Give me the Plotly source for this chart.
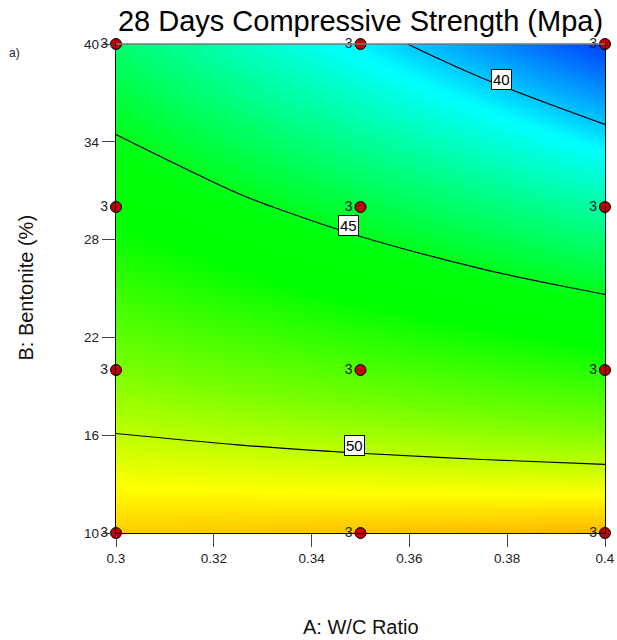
import numpy as np
import plotly.graph_objects as go

# ---- data ----
wc_ratio = [0.3, 0.325, 0.35, 0.375, 0.4]          # A: W/C Ratio
bentonite = [10, 15, 20, 25, 30, 35, 40]            # B: Bentonite (%)
# predicted 28-day compressive strength, rows = bentonite, cols = wc_ratio
strength = [
    [51.67, 51.75, 51.84, 51.93, 52.02],
    [50.30, 50.13, 49.96, 49.79, 49.62],
    [48.94, 48.51, 48.08, 47.65, 47.22],
    [47.58, 46.89, 46.20, 45.51, 44.83],
    [46.21, 45.27, 44.32, 43.37, 42.43],
    [44.85, 43.64, 42.44, 41.24, 40.03],
    [43.49, 42.02, 40.56, 39.10, 37.64],
]
contour_levels = [40, 45, 50]
label_wc = [0.3789, 0.3475, 0.3487]

design_wc = [0.3, 0.35, 0.4] * 4
design_bent = [10] * 3 + [20] * 3 + [30] * 3 + [40] * 3
design_reps = ["3"] * 12

x_ticks = [0.3, 0.32, 0.34, 0.36, 0.38, 0.4]
x_ticktext = ["0.3", "0.32", "0.34", "0.36", "0.38", "0.4"]
y_ticks = [10, 16, 22, 28, 34, 40]
y_ticktext = ["10", "16", "22", "28", "34", "40"]

# colour map stops (response value -> colour)
cmap_z = [37.6, 40.0, 40.8, 45.3, 46.5, 48.9, 50.0, 50.9, 52.1]
cmap_c = ["rgb(0,60,255)", "rgb(0,200,255)", "rgb(0,255,255)", "rgb(0,255,10)",
          "rgb(0,255,0)", "rgb(120,255,0)", "rgb(190,255,0)", "rgb(255,255,0)",
          "rgb(255,175,0)"]

FONT = "Arial, Liberation Sans, sans-serif"

zmin, zmax = cmap_z[0], cmap_z[-1]
colorscale = [[(v - zmin) / (zmax - zmin), c] for v, c in zip(cmap_z, cmap_c)]

Z = np.array(strength)
A = np.array(wc_ratio)
B = np.array(bentonite, dtype=float)

fig = go.Figure()
fig.add_trace(go.Heatmap(x=wc_ratio, y=bentonite, z=strength, zsmooth="best",
                         colorscale=colorscale, zmin=zmin, zmax=zmax,
                         showscale=False, hoverinfo="skip"))
fig.add_trace(go.Contour(x=wc_ratio, y=bentonite, z=strength,
                         contours=dict(coloring="none", start=contour_levels[0],
                                       end=contour_levels[-1], size=5),
                         line=dict(color="black", width=1.2, smoothing=1),
                         showscale=False, hoverinfo="skip"))
fig.add_trace(go.Scatter(x=design_wc, y=design_bent, mode="markers+text",
                         text=design_reps, textposition="middle left",
                         textfont=dict(family=FONT, size=14, color="#222"),
                         marker=dict(size=11, color="rgb(190,0,0)",
                                     line=dict(color="black", width=1)),
                         cliponaxis=False, hoverinfo="skip"))


def level_position(a, level):
    col = np.array([np.interp(a, A, row) for row in Z])
    return float(np.interp(level, col[::-1], B[::-1]))


annotations = []
for lvl, a in zip(contour_levels, label_wc):
    annotations.append(dict(x=a, y=level_position(a, lvl), xref="x", yref="y",
                            text=str(lvl), showarrow=False, yshift=7,
                            bgcolor="white", bordercolor="black", borderwidth=1,
                            borderpad=1, font=dict(family=FONT, size=15, color="black")))

annotations += [
    dict(text="A: W/C Ratio", x=0.5, y=-0.192, xref="paper", yref="paper",
         showarrow=False, yanchor="middle", font=dict(family=FONT, size=20, color="#111")),
    dict(text="B: Bentonite (%)", x=-0.186, y=0.502, xref="paper", yref="paper",
         showarrow=False, textangle=-90, xanchor="center", yanchor="middle",
         font=dict(family=FONT, size=20, color="#111")),
    dict(text="a)", x=-0.222, y=0.982, xref="paper", yref="paper", showarrow=False,
         xanchor="left", yanchor="middle", font=dict(family=FONT, size=12, color="#222")),
]

fig.update_layout(
    width=617, height=640,
    margin=dict(l=116, r=12, t=44, b=107, autoexpand=False),
    paper_bgcolor="white", plot_bgcolor="white",
    showlegend=False,
    title=dict(text="28 Days Compressive Strength (Mpa)", x=0.5, xref="paper",
               xanchor="center", y=1 - 21 / 640, yref="container", yanchor="middle",
               font=dict(family=FONT, size=29, color="black")),
    annotations=annotations,
    shapes=[dict(type="line", xref="paper", yref="paper", x0=0, x1=1, y0=1, y1=1,
                 line=dict(color="#777", width=1.5))],
)
fig.update_xaxes(range=[0.3, 0.4], tickvals=x_ticks, ticktext=x_ticktext,
                 ticks="outside", ticklen=13, tickcolor="#444", tickwidth=1.3,
                 showline=True, linecolor="black", linewidth=1.3, mirror=False,
                 showgrid=False, zeroline=False, automargin=False,
                 tickfont=dict(family=FONT, size=13.5, color="#222"))
fig.update_yaxes(range=[10, 40], tickvals=y_ticks, ticktext=y_ticktext,
                 ticks="outside", ticklen=13, tickcolor="#444", tickwidth=1.3,
                 showline=True, linecolor="black", linewidth=1.3, mirror=True,
                 showgrid=False, zeroline=False, automargin=False,
                 tickfont=dict(family=FONT, size=13.5, color="#222"))

fig.write_html("out.html")
